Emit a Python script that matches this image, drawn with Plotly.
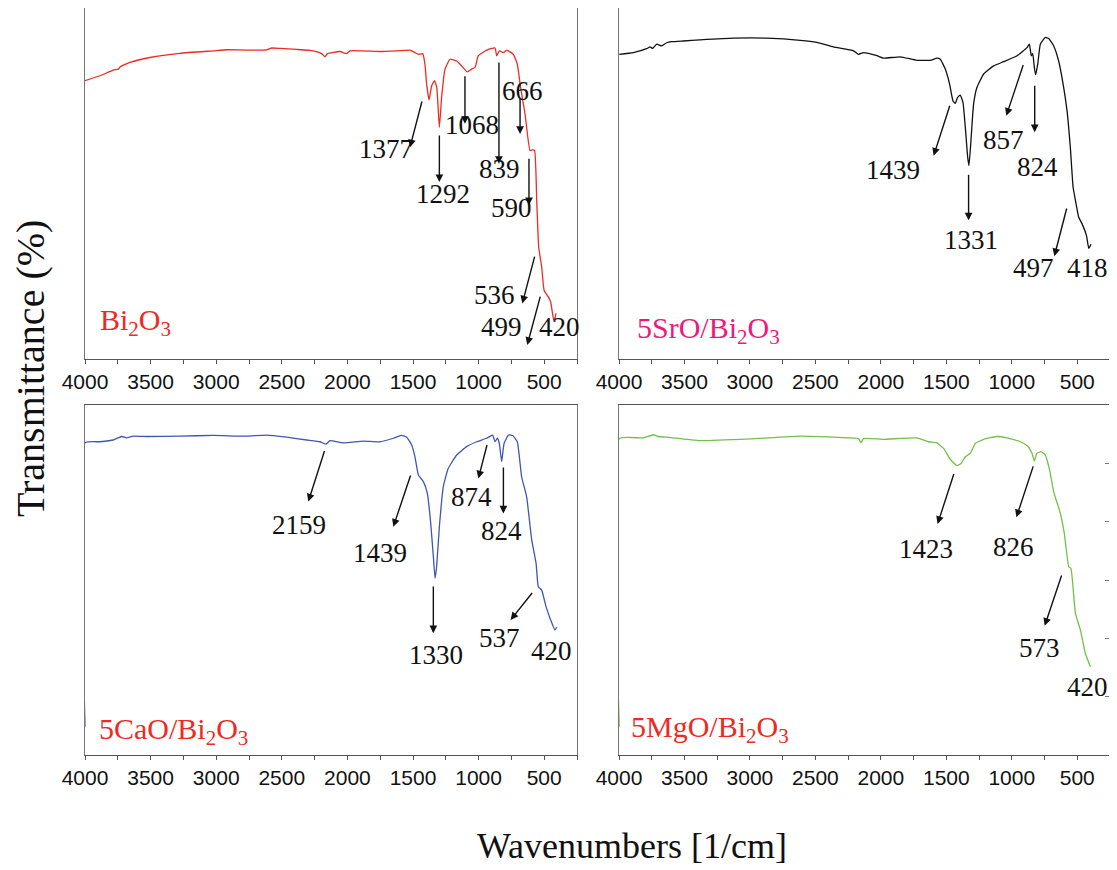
import plotly.graph_objects as go

# ---------------- data (wavenumber [1/cm], transmittance in arbitrary % units) -------------
bi_wn = [4000, 3886, 3784, 3746, 3733, 3657, 3505, 3276, 3022, 2920, 2768, 2615, 2577, 2514, 2387,
         2260, 2196, 2171, 2153, 2056, 2006, 1980, 1752, 1624, 1523, 1485, 1459, 1426, 1409, 1396,
         1378, 1358, 1337, 1319, 1299, 1282, 1256, 1218, 1167, 1129, 1086, 1053, 1027, 1002, 938,
         875, 862, 842, 811, 786, 735, 705, 680, 646, 608, 588, 573, 557, 542, 519, 501, 469, 451,
         425, 410]
bi_t = [79.3, 80.7, 82.3, 82.6, 83.2, 84.5, 85.9, 87.1, 87.8, 88.1, 88.0, 88.1, 88.6, 88.5, 88.2,
        87.8, 87.0, 86.1, 87.0, 87.6, 87.0, 87.8, 87.6, 87.8, 88.0, 87.3, 86.8, 87.0, 84.0, 78.3,
        73.8, 77.8, 79.3, 77.4, 66.0, 74.5, 82.6, 85.4, 84.9, 83.5, 81.8, 82.6, 83.1, 86.4, 88.0,
        88.6, 86.4, 87.8, 87.3, 88.0, 86.8, 84.0, 77.4, 69.8, 59.4, 59.6, 59.4, 45.2, 31.9, 26.2,
        19.6, 17.7, 16.3, 10.6, 13.0]

sr_wn = [3998, 3890, 3789, 3763, 3743, 3712, 3674, 3636, 3597, 3508, 3381, 3126, 2871, 2616, 2489,
         2362, 2209, 2171, 2132, 2030, 1980, 1852, 1725, 1623, 1572, 1546, 1508, 1475, 1450, 1432,
         1414, 1394, 1373, 1355, 1337, 1327, 1312, 1292, 1266, 1215, 1139, 1062, 960, 884, 866, 851,
         840, 828, 818, 802, 782, 744, 718, 680, 642, 604, 578, 553, 532, 514, 489, 463, 430, 412, 395]
sr_t = [86.8, 87.3, 88.4, 88.9, 88.5, 89.7, 89.2, 90.1, 90.4, 90.6, 90.9, 91.4, 91.4, 90.8, 90.2,
        88.9, 87.8, 86.8, 87.3, 86.4, 85.7, 86.1, 85.1, 85.1, 85.7, 85.4, 82.6, 78.3, 73.6, 72.8,
        74.5, 75.2, 73.1, 66.0, 57.5, 55.1, 62.2, 72.6, 77.4, 81.2, 83.5, 84.7, 86.4, 88.7, 89.7, 86.4,
        87.0, 83.1, 81.0, 84.0, 89.7, 91.6, 91.3, 89.2, 84.9, 77.4, 70.7, 60.3, 49.0, 45.2, 40.4,
        38.5, 35.2, 31.5, 32.7]

ca_wn = [4000, 4000, 3886, 3784, 3721, 3682, 3632, 3530, 3276, 3022, 2768, 2615, 2463, 2310, 2209,
         2163, 2133, 2031, 1879, 1752, 1650, 1586, 1548, 1510, 1485, 1459, 1421, 1391, 1365, 1345,
         1332, 1320, 1299, 1269, 1231, 1167, 1091, 1015, 938, 893, 875, 857, 842, 824, 806, 773, 740,
         705, 672, 634, 595, 562, 545, 519, 486, 451, 418, 405]
ca_t = [8.1, 89.2, 89.5, 90.0, 91.0, 90.6, 91.1, 91.0, 91.1, 91.3, 91.1, 91.4, 90.8, 90.0, 89.5,
        88.8, 89.8, 89.2, 89.7, 89.5, 90.5, 91.3, 90.8, 88.6, 85.2, 80.0, 78.1, 74.8, 66.2, 56.7,
        50.5, 53.8, 65.2, 76.7, 81.9, 85.7, 88.1, 89.5, 90.5, 91.4, 89.5, 90.5, 89.0, 83.8, 89.0, 91.4,
        91.3, 89.5, 79.5, 73.8, 61.4, 54.8, 48.1, 47.1, 42.4, 38.6, 35.7, 36.5]

mg_wn = [3998, 3998, 3814, 3738, 3699, 3636, 3381, 2999, 2616, 2362, 2171, 2153, 2132, 1980, 1725,
         1636, 1572, 1521, 1470, 1419, 1388, 1355, 1317, 1279, 1215, 1113, 1037, 935, 879, 846, 828,
         808, 777, 744, 711, 680, 629, 599, 565, 548, 514, 476, 438, 400]
mg_t = [8.1, 90.4, 90.6, 91.5, 91.0, 90.8, 89.8, 90.3, 91.1, 90.8, 90.4, 89.2, 90.4, 90.2, 90.6,
        89.5, 89.2, 87.6, 84.5, 82.7, 83.3, 85.2, 86.2, 89.0, 90.2, 91.0, 90.6, 89.5, 88.3, 86.2, 84.0,
        86.2, 86.7, 85.7, 81.4, 75.2, 69.0, 63.3, 53.8, 53.3, 40.5, 35.7, 29.0, 25.2]

x_tick_labels = ["4000", "3500", "3000", "2500", "2000", "1500", "1000", "500"]

# peak annotations: label, text position (wn, val), arrow tail (wn, val), arrow head (wn, val)
bi_peaks = [("1377", 1708, 59.8, 1429, 73.8, 1523, 60.3),
            ("1292", 1269, 47.1, 1299, 64.1, 1299, 50.4),
            ("1068", 1053, 66.8, 1104, 81.0, 1104, 67.0),
            ("839", 837, 54.2, 845, 84.9, 845, 55.6),
            ("666", 667, 76.4, 684, 74.5, 684, 64.1),
            ("590", 753, 43.1, 616, 57.5, 616, 43.8),
            ("536", 880, 18.2, 570, 29.6, 667, 15.8),
            ("499", 824, 9.2, 527, 18.2, 629, 4.0),
            ("420", 380, 9.2, None, None, None, None)]
sr_peaks = [("1439", 1908, 53.9, 1470, 72.6, 1597, 57.9),
            ("1331", 1312, 34.0, 1330, 52.9, 1330, 39.5),
            ("857", 1062, 62.4, 909, 84.2, 1042, 69.3),
            ("824", 802, 54.6, 825, 78.3, 825, 64.6),
            ("497", 833, 25.8, 578, 43.3, 675, 29.3),
            ("418", 425, 25.8, None, None, None, None)]
ca_peaks = [("2159", 2366, 65.7, 2171, 87.3, 2298, 72.4),
            ("1439", 1752, 57.8, 1515, 80.3, 1650, 65.2),
            ("1330", 1325, 28.6, 1345, 48.6, 1345, 34.8),
            ("874", 1053, 73.8, 933, 89.0, 1002, 79.0),
            ("824", 824, 64.0, 811, 82.6, 811, 69.0),
            ("537", 842, 33.3, 583, 46.7, 756, 38.6),
            ("420", 443, 29.8, None, None, None, None)]
mg_peaks = [("1423", 1653, 58.8, 1439, 80.7, 1567, 66.0),
            ("826", 986, 59.5, 833, 82.9, 965, 67.9),
            ("573", 792, 30.5, 616, 51.7, 749, 36.9),
            ("420", 420, 19.3, None, None, None, None)]

panels = [
    dict(wn=bi_wn, t=bi_t, color="#ee2a24", peaks=bi_peaks,
         name="Bi<sub>2</sub>O<sub>3</sub>", ncolor="#ee2a24", nx=3899, ny=10.5),
    dict(wn=sr_wn, t=sr_t, color="#111111", peaks=sr_peaks,
         name="5SrO/Bi<sub>2</sub>O<sub>3</sub>", ncolor="#ec1a7c", nx=3878, ny=8.2),
    dict(wn=ca_wn, t=ca_t, color="#4056b3", peaks=ca_peaks,
         name="5CaO/Bi<sub>2</sub>O<sub>3</sub>", ncolor="#ee2a24", nx=3906, ny=6.9),
    dict(wn=mg_wn, t=mg_t, color="#72c04a", peaks=mg_peaks,
         name="5MgO/Bi<sub>2</sub>O<sub>3</sub>", ncolor="#ee2a24", nx=3921, ny=7.4),
]

# figure is placed by the page 8px from the top-left (default body margin)
OFF = 8
W, H = 1104, 861


def px_x(p):
    return (p - OFF) / W


def px_y(p):
    return 1 - (p - OFF) / H


xdoms = [[px_x(85), px_x(577)], [px_x(619), px_x(1110)]] * 2
ydoms = [[px_y(359), px_y(8)], [px_y(359), px_y(8)],
         [px_y(755), px_y(405)], [px_y(755), px_y(405)]]

fig = go.Figure()
annotations = []
SERIF = "Liberation Serif, Times New Roman, serif"
SANS = "Liberation Sans, Arial, sans-serif"

for i, p in enumerate(panels):
    k = "" if i == 0 else str(i + 1)
    xr, yr = "x" + k, "y" + k
    fig.add_trace(go.Scatter(x=p["wn"], y=p["t"], mode="lines", xaxis=xr, yaxis=yr,
                             line=dict(color=p["color"], width=1.3, shape="spline", smoothing=0.4),
                             showlegend=False, hoverinfo="skip"))
    fig.update_layout(**{
        "xaxis" + k: dict(domain=xdoms[i], anchor=yr, range=[4000, 250], showgrid=False,
                          zeroline=False, showline=True, linecolor="#555555", linewidth=1,
                          mirror=True, ticks="outside", ticklen=4, tickcolor="#555555",
                          automargin=False,
                          tickvals=[4000, 3500, 3000, 2500, 2000, 1500, 1000, 500],
                          ticktext=x_tick_labels,
                          minor=dict(tickvals=[3750, 3250, 2750, 2250, 1750, 1250, 750, 250],
                                     ticks="outside", ticklen=4, tickcolor="#555555"),
                          tickfont=dict(family=SANS, size=21, color="#111111")),
        "yaxis" + k: dict(domain=ydoms[i], anchor=xr, range=[0, 100], showgrid=False,
                          zeroline=False, showline=True, linecolor="#777777", linewidth=1,
                          mirror=True, showticklabels=False, automargin=False,
                          ticks="inside" if i == 3 else "", ticklen=5, tickcolor="#777777",
                          side="right" if i == 3 else "left",
                          tickvals=[0, 16.67, 33.33, 50, 66.67, 83.33, 100] if i == 3 else None),
    })
    for lab, tx, ty, ax, ay, hx, hy in p["peaks"]:
        annotations.append(dict(x=tx, y=ty, xref=xr, yref=yr, text=lab, showarrow=False,
                                font=dict(family=SERIF, size=27, color="#111111")))
        if ax is not None:
            annotations.append(dict(x=hx, y=hy, xref=xr, yref=yr, ax=ax, ay=ay, axref=xr, ayref=yr,
                                    text="", showarrow=True, arrowhead=2, arrowsize=1.1,
                                    arrowwidth=1.4, arrowcolor="#111111", standoff=0, startstandoff=0))
    annotations.append(dict(x=p["nx"], y=p["ny"], xref=xr, yref=yr, text=p["name"], showarrow=False,
                            xanchor="left", yanchor="middle",
                            font=dict(family=SERIF, size=30, color=p["ncolor"])))

annotations.append(dict(x=px_x(30), y=px_y(369), xref="paper", yref="paper", text="Transmittance (%)",
                        textangle=-90, showarrow=False, xanchor="center", yanchor="middle",
                        font=dict(family=SERIF, size=40, color="#111111")))
annotations.append(dict(x=px_x(632), y=px_y(846), xref="paper", yref="paper", text="Wavenumbers [1/cm]",
                        showarrow=False, xanchor="center", yanchor="middle",
                        font=dict(family=SERIF, size=36, color="#111111")))

fig.update_layout(width=W, height=H, margin=dict(l=0, r=0, t=0, b=0, autoexpand=False),
                  paper_bgcolor="white", plot_bgcolor="white", annotations=annotations,
                  showlegend=False)

fig.write_html("out.html")
